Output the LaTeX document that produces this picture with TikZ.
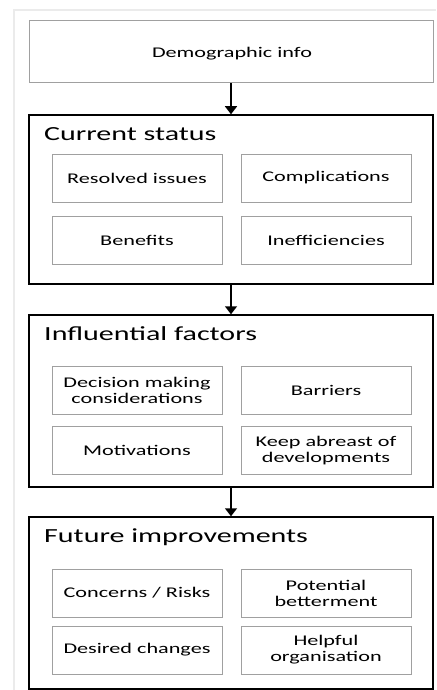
\documentclass[tikz,border=0pt]{standalone}
\usepackage{fontspec}
\setmainfont{Carlito}
\newfontfamily\widef[FakeStretch=1.5]{Carlito}
\usetikzlibrary{arrows.meta}
\definecolor{boxgray}{HTML}{A0A0A0}
\definecolor{framegray}{HTML}{EBEBEB}
\tikzset{
  topbox/.style={draw=boxgray, line width=1pt, minimum width=404pt, minimum height=62pt, inner sep=0pt},
  toptext/.style={anchor=base, inner sep=0pt, font=\widef\fontsize{14.8}{16}\selectfont},
  group/.style={draw=black, line width=1.5pt, minimum width=404pt, inner sep=0pt},
  grouptitle/.style={anchor=base west, inner sep=0pt, font=\widef\fontsize{20}{23}\selectfont},
  item/.style={draw=boxgray, line width=1pt, minimum width=170pt, minimum height=48pt, inner sep=0pt, align=center, font=\widef\fontsize{14.8}{16}\selectfont},
  flow/.style={-{Triangle[width=12pt,length=8pt]}, line width=1.5pt, black}
}
\begin{document}
\begin{tikzpicture}[x=1pt,y=-1pt]
\useasboundingbox (0,0) rectangle (436,690);
\draw[framegray, line width=1.5pt] (14,690) -- (14,10) -- (436,10);
% top box
\node[topbox] (demo) at (231,52) {};
\node[toptext] (demot) at (232,57.3) {Demographic info};
% groups
\node[group, minimum height=169pt] (cs) at (231,199.5) {};
\node[group, minimum height=172pt] (inf) at (231,401) {};
\node[group, minimum height=172pt] (fut) at (231,603) {};
\node[grouptitle] (cst) at (44,140) {Current status};
\node[grouptitle] (inft) at (44,340) {Influential factors};
\node[grouptitle] (futt) at (44,542) {Future improvements};
% items
\node[item] (a1) at (137,178) {Resolved issues};
\node[item] (a2) at (326,178) {Complications};
\node[item] (a3) at (137,240) {Benefits};
\node[item] (a4) at (326,240) {Inefficiencies};
\node[item] (b1) at (137,390) {Decision making\\considerations};
\node[item] (b2) at (326,390) {Barriers};
\node[item] (b3) at (137,450.5) {Motivations};
\node[item] (b4) at (326,450.5) {Keep abreast of\\developments};
\node[item] (c1) at (137,593) {Concerns / Risks};
\node[item] (c2) at (326,593) {Potential\\betterment};
\node[item] (c3) at (137,650) {Desired changes};
\node[item] (c4) at (326,650) {Helpful\\organisation};
% arrows
\draw[flow] (demo.south) -- (cs.north);
\draw[flow] (cs.south) -- (inf.north);
\draw[flow] (inf.south) -- (fut.north);
\end{tikzpicture}
\end{document}
